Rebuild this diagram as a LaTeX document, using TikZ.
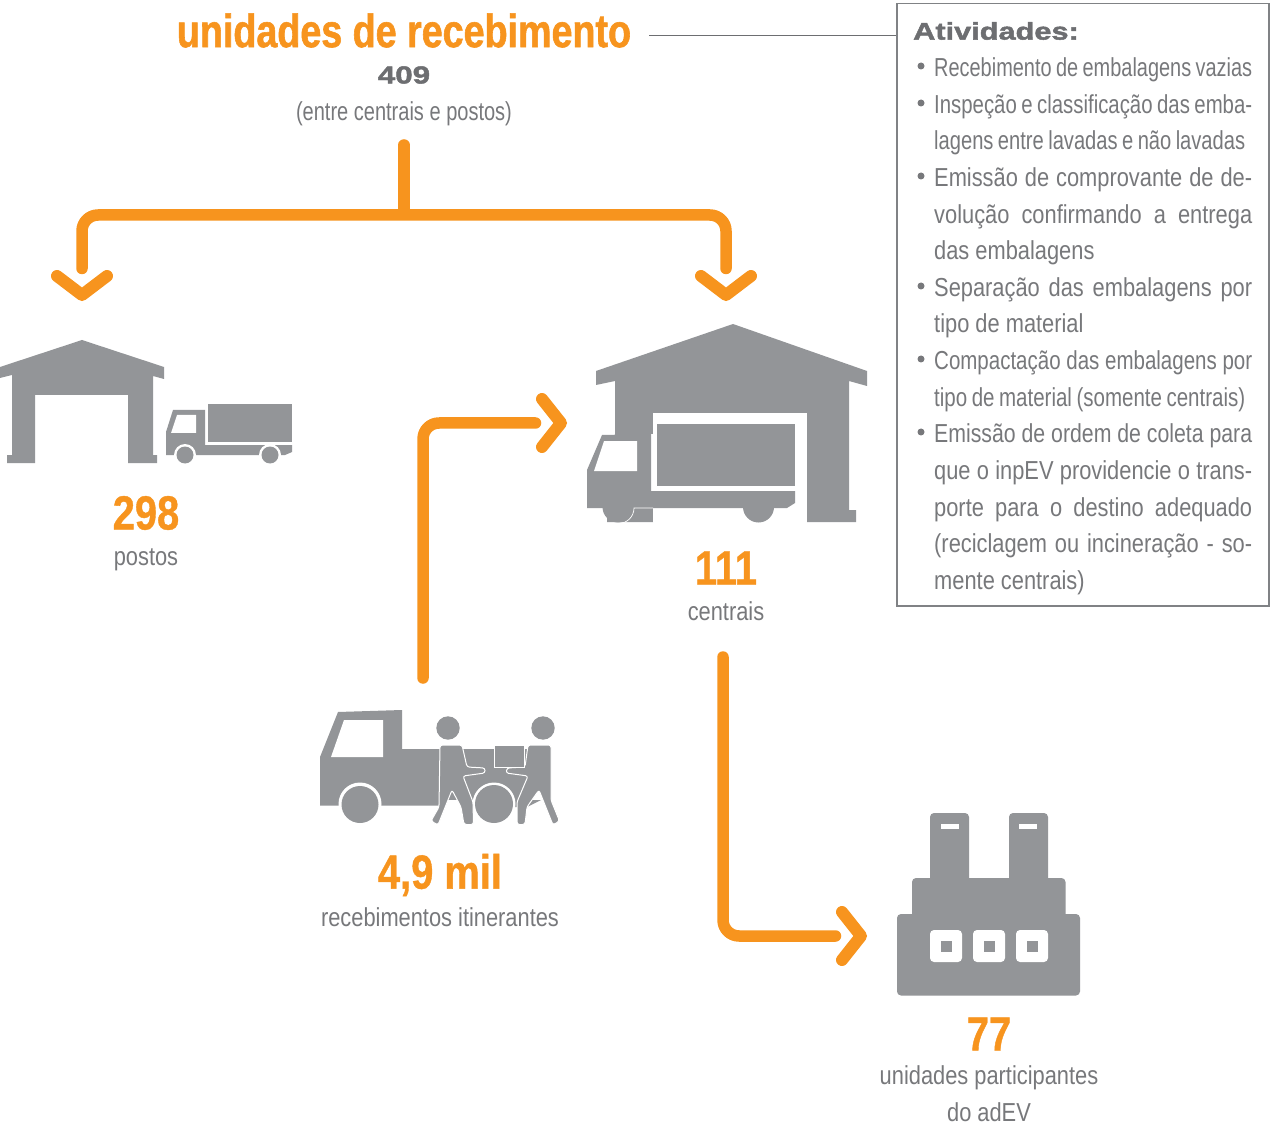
\documentclass[tikz,border=0pt]{standalone}
\usepackage{graphicx}
\usepackage{fontspec}
\setmainfont{Liberation Sans}
\newfontfamily\condlight[FakeStretch=0.84]{Liberation Sans}
\newfontfamily\condtight[FakeStretch=0.77]{Liberation Sans}
\newfontfamily\condbold[FakeStretch=0.83,FakeBold=0.8]{Liberation Sans}
\newfontfamily\titlebold[FakeStretch=0.81,FakeBold=1.2]{Liberation Sans}
\newfontfamily\widebold[FakeStretch=1.28,FakeBold=2]{Liberation Sans}
\definecolor{og}{HTML}{F7941E}
\definecolor{ig}{HTML}{939598}
\definecolor{tg}{HTML}{77787B}
\definecolor{dg}{HTML}{6D6E71}
\definecolor{bg}{HTML}{808285}
\newsavebox{\linebox}
\newcommand{\jline}[1]{\sbox{\linebox}{#1}\ifdim\wd\linebox>318pt\resizebox{318pt}{\height}{\usebox{\linebox}}\else\makebox[318pt][s]{#1}\fi}
\newcommand{\lline}[1]{#1}
\newcommand{\tline}[2]{\resizebox{#1pt}{\height}{\condtight\spaceskip=.17em #2}}
\tikzset{
  flow/.style={line width=11.5pt,draw=og,line cap=round,line join=round,rounded corners=16pt},
  chev/.style={line width=12pt,draw=og,line cap=round,line join=round},
  icon/.style={fill=ig,draw=none},
  hole/.style={fill=white,draw=none},
  person/.style={draw=white,line width=1pt,fill=ig,rounded corners=2.5pt},
  numb/.style={font=\condbold\bfseries\fontsize{48}{48}\selectfont,text=og,inner sep=0pt,anchor=center},
  lab/.style={font=\condlight\fontsize{26}{37}\selectfont,text=tg,inner sep=0pt,anchor=center,align=center},
  itemline/.style={font=\condlight\fontsize{26}{36.6}\selectfont,text=tg,inner sep=0pt,anchor=west},
  bull/.style={fill=tg,draw=none,circle,inner sep=0pt,minimum size=7pt}
}
\begin{document}
\begin{tikzpicture}[x=1pt,y=-1pt]
\useasboundingbox (0,0) rectangle (1270,1123);
\fill[white] (0,0) rectangle (1270,1123);
\node[numb,font=\titlebold\bfseries\fontsize{46.5}{46.5}\selectfont] (title) at (404,30.5) {unidades de recebimento};
\node[font=\widebold\bfseries\fontsize{24.5}{24.5}\selectfont,text=dg,inner sep=0pt] (n409) at (404,75) {409};
\node[lab,font=\condtight\fontsize{26}{37}\selectfont] (sub) at (404,114) {(entre centrais e postos)};
\node[draw=bg,line width=1.5pt,minimum width=372pt,minimum height=602pt,anchor=north west,inner sep=0pt] (box) at (896,3) {};
\coordinate (tstart) at (649,36);
\draw[dg,line width=1pt] (tstart) -- (tstart -| box.west);
\node[font=\widebold\bfseries\fontsize{24}{24}\selectfont,text=dg,inner sep=0pt,anchor=west] (ativ) at (913,31) {Atividades:};
% list
\foreach \y/\n/\t in {
 68/a/{\tline{318}{Recebimento de embalagens vazias}},
 105/b/{\tline{318}{Inspeção e classificação das emba-}},
 141/c/{\tline{311}{lagens entre lavadas e não lavadas}},
 178/d/{\jline{Emissão de comprovante de de-}},
 215/e/{\jline{volução confirmando a entrega}},
 251/f/{\lline{das embalagens}},
 288/g/{\jline{Separação das embalagens por}},
 324/h/{\lline{tipo de material}},
 361/i/{\jline{Compactação das embalagens por}},
 398/j/{\tline{311}{tipo de material (somente centrais)}},
 434/k/{\jline{Emissão de ordem de coleta para}},
 471/l/{\jline{que o inpEV providencie o trans-}},
 508/m/{\jline{porte para o destino adequado}},
 544/n/{\jline{(reciclagem ou incineração - so-}},
 581/o/{\lline{mente centrais)}}}
 {\node[itemline] (line\n) at (934,\y+2) {\t};}
\foreach \y/\n in {68/a,105/b,178/c,288/d,361/e,434/f}
 {\node[bull] (b\n) at (921,\y-2) {};}
% arrows
\coordinate (trunk) at (404,145);
\coordinate (j) at (404,213);
\coordinate (la) at (82,268.5);
\coordinate (ra) at (726,268.5);
\draw[flow] (trunk) -- (j);
\draw[flow] (la) -- (82,215) -- (726,215) -- (ra);
\draw[chev] (57,276) -- (82,295) -- (107,276);
\draw[chev] (701,276) -- (726,295) -- (751,276);
\coordinate (s2) at (423,678);
\coordinate (e2) at (535.5,423);
\draw[flow] (s2) -- (423,423) -- (e2);
\draw[chev] (542,399) -- (561,423) -- (542,447);
\coordinate (s3) at (723,657);
\coordinate (e3) at (835.5,936);
\draw[flow] (s3) -- (723,936) -- (e3);
\draw[chev] (842,912) -- (861,936) -- (842,960);
% small warehouse
\fill[icon] (82,340) -- (164,367) -- (164,379) -- (153,376) -- (153,455) -- (157,455) -- (157,463) -- (128,463) -- (128,395) -- (35,395) -- (35,463) -- (7,463) -- (7,455) -- (12,455) -- (12,375) -- (0,378) -- (0,367) -- cycle;
% small truck
\fill[icon] (208,404) rectangle (292,442);
\fill[icon] (166,455) -- (166,432) -- (173,410) -- (205,410) -- (205,445) -- (292,445) -- (292,452) -- (285,455) -- cycle;
\fill[hole] (177,415) -- (196,415) -- (196,433) -- (171,433) -- cycle;
\fill[hole] (185,455) circle (11); \fill[icon] (185,455) circle (8.5);
\fill[hole] (270,455) circle (11); \fill[icon] (270,455) circle (8.5);
% big warehouse
\fill[icon] (733,324) -- (867,371) -- (867,386) -- (849,381) -- (849,510) -- (856,510) -- (856,522) -- (807,522) -- (807,413) -- (653,413) -- (653,522) -- (607,522) -- (615,490) -- (615,381) -- (596,385) -- (596,371) -- cycle;
% big truck
\fill[hole] (653,413) rectangle (807,522);
\fill[icon] (657,424) rectangle (795,486);
\fill[hole] (651,434) rectangle (653,491);
\fill[icon] (587,508) -- (587,470) -- (602,435) -- (651,434) -- (651,491) -- (795,491) -- (795,503) -- (787,508) -- cycle;
\fill[hole] (604,441) -- (637,441) -- (637,471) -- (594,471) -- cycle;
\fill[icon] (618,507) circle (15.5);
\fill[icon] (758.5,507) circle (15.5);
\fill[icon] (607,508) rectangle (653,522);
\draw[white,line width=.7pt] (653,508) -- (634,508) arc[start angle=0,end angle=90,radius=15.5];
% itinerant truck
\fill[icon] (320,805.5) -- (320,757) -- (338,712) -- (402,710) -- (402,749) -- (440,749) -- (440,805.5) -- cycle;
\fill[icon] (440,749) rectangle (528,800);
\fill[icon] (470,800) -- (541,800) -- (527,807) -- (470,807) -- cycle;
\fill[hole] (344,720) -- (383,720) -- (383,757) -- (331,757) -- cycle;
\fill[hole] (360,804) circle (21.5); \fill[icon] (360,804.5) circle (18.5);
\fill[hole] (494,804) circle (21.5); \fill[icon] (494,804) circle (19);
% people
\fill[icon] (448,728) circle (11.7);
\fill[icon] (543,728) circle (11.7);
\draw[person] (440,745) -- (462,745) -- (467,767) -- (485,768) -- (485,773) -- (463,776) -- (473,802) -- (473.5,824.5) -- (464,824.5) -- (461,807) -- (452,790) -- (438,825) -- (431,821) -- (439,807) -- cycle;
\draw[person] (551,745) -- (528,745) -- (525,767) -- (507,768) -- (506,773) -- (528,776) -- (517,802) -- (517,824.5) -- (525,824.5) -- (527,807) -- (539,790) -- (553,825) -- (559.5,821) -- (551,800) -- cycle;
\fill[icon,draw=white,line width=.8pt] (494,745) rectangle (524,767);
% factory
\fill[icon,rounded corners=4pt] (930,813) rectangle (969,890);
\fill[icon,rounded corners=4pt] (1009,813) rectangle (1048,890);
\fill[icon,rounded corners=4pt] (912,878) rectangle (1065.5,925);
\fill[icon,rounded corners=4pt] (897,914) rectangle (1080,995.5);
\fill[hole] (941,824) rectangle (959,829);
\fill[hole] (1019,824) rectangle (1037,829);
\foreach \cx in {946,989,1032}{
  \fill[hole,rounded corners=4pt] (\cx-16,930) rectangle (\cx+16,962);
  \fill[icon] (\cx-5.5,941) rectangle (\cx+5.5,952);
}
% labels
\node[numb] (n298) at (146,513) {298};
\node[lab] (postos) at (146,560) {postos};
\node[numb] (n111) at (726,568) {111};
\node[lab] (centrais) at (726,611) {centrais};
\node[numb] (n49) at (440,875) {4,9 mil};
\node[lab] (rec) at (440,917) {recebimentos itinerantes};
\node[numb] (n77) at (989,1034) {77};
\node[lab] (uni) at (989,1094) {unidades participantes\\do adEV};
\end{tikzpicture}
\end{document}
